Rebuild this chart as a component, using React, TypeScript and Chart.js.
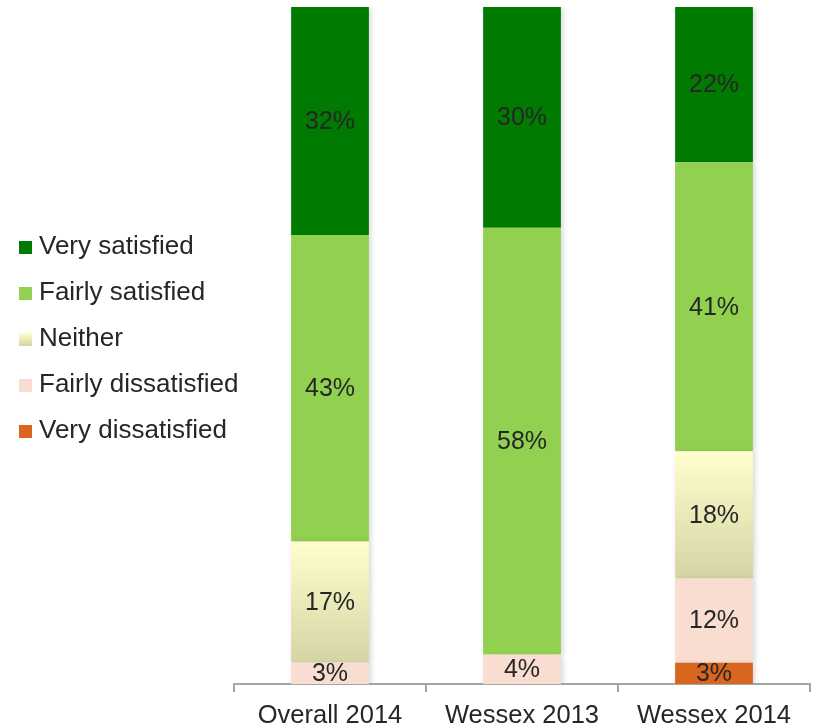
import React, { useEffect, useRef } from "react";
import { Chart, registerables } from "chart.js";

Chart.register(...registerables);

const categories = ["Overall 2014", "Wessex 2013", "Wessex 2014"];
const seriesNames = [
  "Very dissatisfied",
  "Fairly dissatisfied",
  "Neither",
  "Fairly satisfied",
  "Very satisfied",
];
const veryDissatisfied = [0, 0, 3];
const fairlyDissatisfied = [3, 4, 12];
const neither = [17, 0, 18];
const fairlySatisfied = [43, 58, 41];
const verySatisfied = [32, 30, 22];

const COLORS = {
  veryDis: "#D9661F",
  fairlyDis: "#F8DDD0",
  neitherTop: "#FFFFCE",
  neitherBottom: "#D5D4A4",
  fairlySat: "#92D050",
  verySat: "#007A00",
};
const TEXT = "#262626";
const FONT = "'Liberation Sans', Arial, sans-serif";

const rawSeries = [veryDissatisfied, fairlyDissatisfied, neither, fairlySatisfied, verySatisfied];
const totals = categories.map((_, i) => rawSeries.reduce((s, arr) => s + arr[i], 0));
const normalized = rawSeries.map((arr) => arr.map((v, i) => (v / totals[i]) * 100));

const neitherGradient = (ctx: any) => {
  const chart = ctx.chart;
  const y = chart.scales && chart.scales.y;
  if (!chart.chartArea || !y || ctx.type !== "data") return COLORS.neitherTop;
  const i = ctx.dataIndex;
  const lo = normalized[0][i] + normalized[1][i];
  const hi = lo + normalized[2][i];
  const top = y.getPixelForValue(hi);
  const bot = y.getPixelForValue(lo);
  if (!isFinite(top) || !isFinite(bot) || top === bot) return COLORS.neitherTop;
  const g = chart.ctx.createLinearGradient(0, top, 0, bot);
  g.addColorStop(0, COLORS.neitherTop);
  g.addColorStop(1, COLORS.neitherBottom);
  return g;
};

const labelPlugin = {
  id: "segLabels",
  beforeDatasetsDraw(chart: any) {
    const ctx = chart.ctx;
    ctx.save();
    ctx.shadowColor = "rgba(0,0,0,0.16)";
    ctx.shadowBlur = 5;
    ctx.shadowOffsetX = 2;
    ctx.shadowOffsetY = 1;
  },
  afterDatasetsDraw(chart: any) {
    const ctx = chart.ctx;
    ctx.restore();
    ctx.save();
    ctx.font = `25px ${FONT}`;
    ctx.fillStyle = TEXT;
    ctx.textAlign = "center";
    ctx.textBaseline = "middle";
    chart.data.datasets.forEach((_: any, di: number) => {
      const meta = chart.getDatasetMeta(di);
      meta.data.forEach((bar: any, j: number) => {
        const v = rawSeries[di][j];
        if (!v) return;
        const yMid = (bar.y + bar.base) / 2;
        ctx.fillText(`${v}%`, bar.x, yMid + 1);
      });
    });
    ctx.restore();
  },
};

const legendItems = [
  { name: seriesNames[4], bg: COLORS.verySat },
  { name: seriesNames[3], bg: COLORS.fairlySat },
  { name: seriesNames[2], bg: `linear-gradient(${COLORS.neitherTop}, ${COLORS.neitherBottom})` },
  { name: seriesNames[1], bg: COLORS.fairlyDis },
  { name: seriesNames[0], bg: COLORS.veryDis },
];

export default function App() {
  const ref = useRef<HTMLCanvasElement>(null);

  useEffect(() => {
    if (!ref.current) return;
    const colors = [COLORS.veryDis, COLORS.fairlyDis, neitherGradient, COLORS.fairlySat, COLORS.verySat];
    const chart = new Chart(ref.current, {
      type: "bar",
      data: {
        labels: categories,
        datasets: seriesNames.map((name, i) => ({
          label: name,
          data: normalized[i],
          backgroundColor: colors[i] as any,
          borderWidth: 0,
          barPercentage: 1,
          categoryPercentage: 0.405,
        })),
      },
      options: {
        responsive: false,
        animation: false,
        devicePixelRatio: 1,
        layout: { padding: { left: 234, right: 6, top: 7, bottom: 0 } },
        plugins: { legend: { display: false }, tooltip: { enabled: false } },
        scales: {
          x: {
            stacked: true,
            afterFit: (s: any) => {
              s.height = 40;
            },
            grid: {
              display: true,
              drawOnChartArea: false,
              drawTicks: true,
              tickLength: 8,
              offset: true,
              color: "#A6A6A6",
              lineWidth: 2,
            },
            border: { display: true, color: "#A6A6A6", width: 2 },
            ticks: {
              color: TEXT,
              padding: 12,
              font: { family: FONT, size: 25.5, lineHeight: 0.92 },
              maxRotation: 0,
            },
          },
          y: { stacked: true, display: false, min: 0, max: 100 },
        },
      },
      plugins: [labelPlugin],
    });
    return () => chart.destroy();
  }, []);

  return (
    <div style={{ position: "absolute", left: 0, top: 0, width: 816, height: 724, background: "#fff" }}>
      <canvas ref={ref} width={816} height={724} style={{ position: "absolute", left: 0, top: 0 }} />
      <div style={{ position: "absolute", left: 19, top: 230, fontFamily: FONT, fontSize: 26, color: TEXT }}>
        {legendItems.map((it) => (
          <div key={it.name} style={{ height: 46, lineHeight: "30px", position: "relative", whiteSpace: "nowrap" }}>
            <span
              style={{
                position: "absolute",
                left: 0,
                top: 11,
                width: 13,
                height: 13,
                background: it.bg,
              }}
            />
            <span style={{ position: "absolute", left: 20, top: 0 }}>{it.name}</span>
          </div>
        ))}
      </div>
    </div>
  );
}
